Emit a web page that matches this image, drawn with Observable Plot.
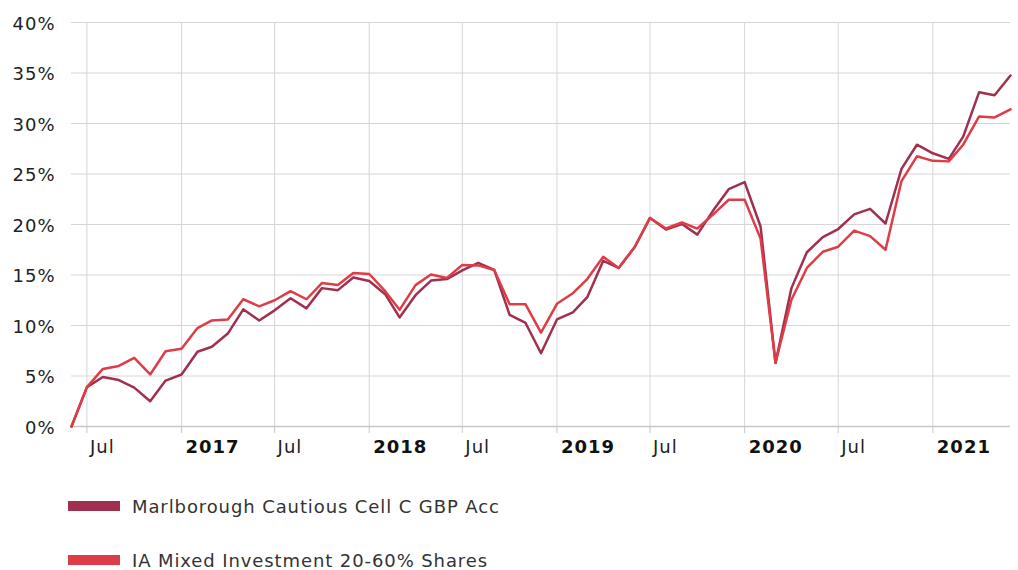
<!DOCTYPE html>
<html>
<head>
<meta charset="utf-8">
<script src="https://cdn.jsdelivr.net/npm/d3@7"></script>
<script src="https://cdn.jsdelivr.net/npm/@observablehq/plot@0.6"></script>
<style>
  html, body { margin: 0; padding: 0; background: #fff; }
  #wrap { position: relative; width: 1018px; height: 570px; font-family: "DejaVu Sans", Verdana, sans-serif; }
  .leg { position: absolute; left: 68px; display: flex; align-items: center; font-size: 18px; letter-spacing: 0.9px; color: #333; white-space: nowrap; }
  .sw { width: 52px; height: 10px; margin-right: 12px; }
  svg text { letter-spacing: 1px; }
</style>
</head>
<body>
<div id="wrap">
  <div id="chart"></div>
  <div id="legend"></div>
</div>
<script>
const months = [
  "2016-06","2016-07","2016-08","2016-09","2016-10","2016-11","2016-12",
  "2017-01","2017-02","2017-03","2017-04","2017-05","2017-06","2017-07","2017-08","2017-09","2017-10","2017-11","2017-12",
  "2018-01","2018-02","2018-03","2018-04","2018-05","2018-06","2018-07","2018-08","2018-09","2018-10","2018-11","2018-12",
  "2019-01","2019-02","2019-03","2019-04","2019-05","2019-06","2019-07","2019-08","2019-09","2019-10","2019-11","2019-12",
  "2020-01","2020-02","2020-03","2020-04","2020-05","2020-06","2020-07","2020-08","2020-09","2020-10","2020-11","2020-12",
  "2021-01","2021-02","2021-03","2021-04","2021-05","2021-06"
];
const marlborough = [
  0, 3.9, 4.9, 4.6, 3.85, 2.5, 4.55,
  5.15, 7.4, 7.9, 9.2, 11.6, 10.5, 11.5, 12.7, 11.7, 13.7, 13.5, 14.75,
  14.4, 13.1, 10.8, 13.0, 14.45, 14.6, 15.45, 16.2, 15.5, 11.05, 10.25, 7.25,
  10.6, 11.3, 12.8, 16.4, 15.7, 17.75, 20.65, 19.5, 20.05, 19.0, 21.4, 23.5,
  24.2, 19.8, 6.3, 13.7, 17.25, 18.75, 19.55, 21.0, 21.55, 20.1, 25.5, 27.9,
  27.05, 26.5, 28.7, 33.1, 32.8, 34.75
];
const sector = [
  0, 3.9, 5.7, 6.0, 6.8, 5.15, 7.45,
  7.7, 9.75, 10.5, 10.6, 12.6, 11.9, 12.5, 13.4, 12.6, 14.2, 14.0, 15.2,
  15.1, 13.4, 11.55, 14.0, 15.05, 14.7, 16.0, 15.95, 15.5, 12.1, 12.1, 9.3,
  12.15, 13.2, 14.6, 16.8, 15.7, 17.75, 20.65, 19.6, 20.2, 19.6, 21.0, 22.45,
  22.45, 18.6, 6.3, 12.55, 15.7, 17.3, 17.8, 19.4, 18.85, 17.5, 24.3, 26.75,
  26.3, 26.25, 27.9, 30.7, 30.6, 31.4
];
const seriesNames = ["Marlborough Cautious Cell C GBP Acc", "IA Mixed Investment 20-60% Shares"];
const seriesColors = ["#a0304d", "#de3c47"];
const yTicks = [0, 5, 10, 15, 20, 25, 30, 35, 40];
const julTicks = ["2016-07-01", "2017-07-01", "2018-07-01", "2019-07-01", "2020-07-01"];
const yearTicks = ["2017-01-01", "2018-01-01", "2019-01-01", "2020-01-01", "2021-01-01"];

const parse = d3.utcParse("%Y-%m");
const rows = months.flatMap((m, i) => [
  {date: parse(m), value: marlborough[i], series: seriesNames[0]},
  {date: parse(m), value: sector[i], series: seriesNames[1]}
]);
const jul = julTicks.map(d => new Date(d));
const yrs = yearTicks.map(d => new Date(d));
const allTicks = [...jul, ...yrs].sort((a, b) => a - b);

const chart = Plot.plot({
  width: 1018,
  height: 470,
  marginLeft: 71,
  marginRight: 8,
  marginTop: 22,
  marginBottom: 44,
  style: {fontFamily: "'DejaVu Sans', Verdana, sans-serif", fontSize: "18px", color: "#222", background: "#fff"},
  x: {type: "utc", domain: [parse(months[0]), parse(months[months.length - 1])], axis: null, label: null},
  y: {domain: [0, 40], axis: null, label: null},
  color: {domain: seriesNames, range: seriesColors},
  marks: [
    Plot.gridY(yTicks, {stroke: "#d6d6d6", strokeOpacity: 1, strokeWidth: 1}),
    Plot.gridX(allTicks, {stroke: "#d6d6d6", strokeOpacity: 1, strokeWidth: 1}),
    Plot.ruleY([0], {stroke: "#c8c8c8", strokeWidth: 1.5}),
    Plot.axisY(yTicks, {tickSize: 0, tickPadding: 16, tickFormat: d => d + "%", fontSize: 18, fill: "#222", label: null, dy: 1.5}),
    Plot.axisX(allTicks, {tickSize: 7, stroke: "#c8c8c8", strokeOpacity: 1, tickFormat: () => "", label: null}),
    Plot.text(jul, {x: d => d, frameAnchor: "bottom", dy: 26, dx: 3, textAnchor: "start", text: () => "Jul", fontSize: 18, fill: "#222"}),
    Plot.text(yrs, {x: d => d, frameAnchor: "bottom", dy: 26, dx: 4, textAnchor: "start", text: d => String(d.getUTCFullYear()), fontSize: 18, fontWeight: "bold", fill: "#111"}),
    Plot.line(rows.filter(d => d.series === seriesNames[0]), {x: "date", y: "value", stroke: "series", strokeWidth: 2.5}),
    Plot.line(rows.filter(d => d.series === seriesNames[1]), {x: "date", y: "value", stroke: "series", strokeWidth: 2.5})
  ]
});
document.getElementById("chart").appendChild(chart);

const legend = document.getElementById("legend");
const legTops = [495, 549];
seriesNames.forEach((name, i) => {
  const row = document.createElement("div");
  row.className = "leg";
  row.style.top = legTops[i] + "px";
  row.style.height = "22px";
  const sw = document.createElement("div");
  sw.className = "sw";
  sw.style.background = seriesColors[i];
  const tx = document.createElement("span");
  tx.textContent = name;
  row.appendChild(sw);
  row.appendChild(tx);
  legend.appendChild(row);
});
</script>
</body>
</html>
